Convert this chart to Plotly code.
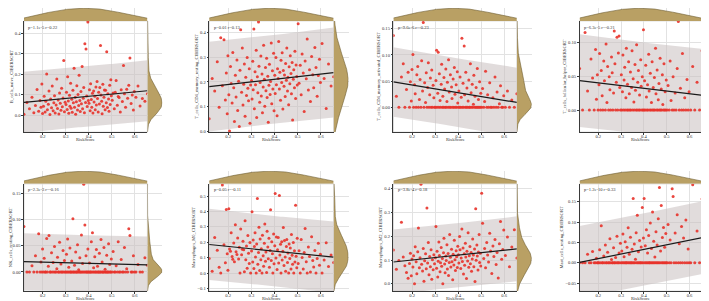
import numpy as np
import plotly.graph_objects as go

W, H = 709, 301

# ---------------- data ----------------
risk_score = [
    0.118, 0.131, 0.142, 0.153, 0.161, 0.168, 0.175, 0.182, 0.188, 0.192, 0.196, 0.199,
    0.203, 0.206, 0.210, 0.213, 0.217, 0.220, 0.224, 0.227, 0.231, 0.234,
    0.238, 0.241, 0.245, 0.248, 0.251, 0.254, 0.258, 0.261, 0.264, 0.267,
    0.270, 0.273, 0.276, 0.279, 0.282, 0.285, 0.288, 0.291, 0.294, 0.297,
    0.301, 0.303, 0.306, 0.308, 0.311, 0.313, 0.316, 0.318, 0.321, 0.323,
    0.326, 0.328, 0.331, 0.333, 0.336, 0.338, 0.341, 0.343, 0.346, 0.348,
    0.351, 0.353, 0.356, 0.358, 0.361, 0.363, 0.366, 0.368, 0.371, 0.373,
    0.376, 0.378, 0.381, 0.383, 0.386, 0.388, 0.391, 0.393, 0.396, 0.398,
    0.401, 0.403, 0.406, 0.408, 0.411, 0.413, 0.416, 0.418, 0.421, 0.423,
    0.426, 0.428, 0.431, 0.433, 0.436, 0.438, 0.441, 0.443, 0.446, 0.448,
    0.451, 0.453, 0.456, 0.458, 0.461, 0.463, 0.466, 0.468, 0.471, 0.473,
    0.476, 0.478, 0.481, 0.483, 0.486, 0.488, 0.491, 0.493, 0.496, 0.498,
    0.502, 0.506, 0.511, 0.515, 0.519, 0.524, 0.528, 0.532, 0.537, 0.541,
    0.546, 0.551, 0.555, 0.560, 0.565, 0.569, 0.574, 0.579, 0.584, 0.589,
    0.594, 0.598,
    0.605, 0.614, 0.623, 0.633, 0.644, 0.655,
]

b_cells_naive = [
    0.005, 0.062, 0.031, 0.088, 0.012, 0.047, 0.125, 0.019, 0.071, 0.038, 0.152, 0.008,
    0.044, 0.092, 0.015, 0.068, 0.201, 0.027, 0.053, 0.118, 0.003, 0.079,
    0.036, 0.142, 0.021, 0.061, 0.095, 0.011, 0.049, 0.177, 0.032, 0.074,
    0.006, 0.108, 0.058, 0.024, 0.131, 0.041, 0.084, 0.267, 0.017, 0.063,
    0.052, 0.112, 0.028, 0.187, 0.069, 0.009, 0.097, 0.043, 0.156, 0.034,
    0.078, 0.014, 0.121, 0.061, 0.229, 0.038, 0.088, 0.004, 0.066, 0.143,
    0.025, 0.101, 0.047, 0.195, 0.072, 0.018, 0.115, 0.056, 0.238, 0.031,
    0.083, 0.135, 0.012, 0.348, 0.062, 0.323, 0.094, 0.042, 0.455, 0.071,
    0.058, 0.124, 0.021, 0.153, 0.076, 0.039, 0.107, 0.011, 0.118, 0.064,
    0.092, 0.027, 0.138, 0.049, 0.164, 0.081, 0.016, 0.112, 0.055, 0.135,
    0.340, 0.098, 0.068, 0.007, 0.151, 0.044, 0.088, 0.123, 0.026, 0.122,
    0.061, 0.310, 0.037, 0.104, 0.079, 0.019, 0.146, 0.052, 0.173, 0.095,
    0.073, 0.108, 0.031, 0.112, 0.169, 0.048, 0.091, 0.086, 0.015, 0.124,
    0.067, 0.242, 0.104, 0.039, 0.127, 0.083, 0.146, 0.279, 0.057, 0.098,
    0.025, 0.116,
    0.087, 0.142, 0.045, 0.081, 0.068, 0.104,
]

t_cd4_memory_resting = [
    0.052, 0.214, 0.163, 0.281, 0.098, 0.377, 0.184, 0.369, 0.127, 0.236, 0.072, 0.305,
    0.148, 0.003, 0.262, 0.194, 0.115, 0.318, 0.176, 0.041, 0.227, 0.139,
    0.288, 0.085, 0.203, 0.021, 0.247, 0.409, 0.158, 0.336, 0.107, 0.191,
    0.272, 0.062, 0.219, 0.145, 0.298, 0.174, 0.124, 0.253, 0.034, 0.187,
    0.206, 0.131, 0.283, 0.168, 0.412, 0.092, 0.241, 0.189, 0.327, 0.057,
    0.221, 0.156, 0.441, 0.263, 0.118, 0.198, 0.304, 0.143, 0.232, 0.076,
    0.179, 0.347, 0.211, 0.102, 0.258, 0.164, 0.295, 0.137, 0.223, 0.038,
    0.186, 0.271, 0.149, 0.202, 0.356, 0.112, 0.245, 0.171, 0.315, 0.084,
    0.227, 0.153, 0.298, 0.189, 0.064, 0.253, 0.214, 0.362, 0.171, 0.239,
    0.126, 0.287, 0.198, 0.317, 0.091, 0.246, 0.182, 0.228, 0.141, 0.274,
    0.207, 0.336, 0.163, 0.219, 0.108, 0.261, 0.193, 0.305, 0.234, 0.152,
    0.278, 0.047, 0.211, 0.249, 0.176, 0.323, 0.133, 0.268, 0.222, 0.187,
    0.434, 0.195, 0.267, 0.148, 0.312, 0.236, 0.081, 0.284, 0.213, 0.372,
    0.167, 0.249, 0.121, 0.302, 0.229, 0.176, 0.338, 0.258, 0.142, 0.226,
    0.291, 0.198,
    0.354, 0.214, 0.093, 0.272, 0.183, 0.221,
]

t_cd4_memory_activated = [
    0.137, 0.021, 0.0, 0.058, 0.083, 0.0, 0.034, 0.067, 0.0, 0.049, 0.012, 0.072,
    0.101, 0.0, 0.043, 0.026, 0.0, 0.062, 0.078, 0.0, 0.015, 0.053,
    0.0, 0.089, 0.031, 0.162, 0.0, 0.047, 0.009, 0.066, 0.0, 0.038,
    0.085, 0.0, 0.024, 0.056, 0.0, 0.071, 0.0, 0.042, 0.018, 0.0,
    0.0, 0.051, 0.109, 0.0, 0.027, 0.105, 0.0, 0.064, 0.013, 0.0,
    0.044, 0.082, 0.0, 0.021, 0.0, 0.057, 0.035, 0.0, 0.073, 0.0,
    0.011, 0.048, 0.0, 0.091, 0.029, 0.0, 0.062, 0.0, 0.039, 0.017,
    0.0, 0.054, 0.0, 0.076, 0.025, 0.0, 0.043, 0.0, 0.068, 0.008,
    0.0, 0.031, 0.0, 0.058, 0.0, 0.019, 0.132, 0.0, 0.046, 0.0,
    0.117, 0.024, 0.0, 0.067, 0.0, 0.037, 0.0, 0.012, 0.052, 0.0,
    0.0, 0.083, 0.028, 0.0, 0.044, 0.0, 0.006, 0.061, 0.0, 0.021,
    0.0, 0.038, 0.0, 0.074, 0.0, 0.015, 0.0, 0.049, 0.0, 0.027,
    0.0, 0.036, 0.0, 0.011, 0.069, 0.0, 0.024, 0.0, 0.047, 0.0,
    0.0, 0.018, 0.0, 0.058, 0.0, 0.029, 0.0, 0.007, 0.041, 0.0,
    0.0, 0.022,
    0.0, 0.031, 0.0, 0.014, 0.0, 0.026,
]

t_follicular_helper = [
    0.061, 0.0, 0.114, 0.028, 0.0, 0.075, 0.047, 0.0, 0.089, 0.016, 0.052, 0.0,
    0.037, 0.083, 0.0, 0.058, 0.021, 0.0, 0.072, 0.043, 0.0, 0.097,
    0.011, 0.064, 0.0, 0.049, 0.030, 0.0, 0.078, 0.055, 0.0, 0.025,
    0.116, 0.068, 0.0, 0.041, 0.107, 0.0, 0.084, 0.109, 0.033, 0.0,
    0.052, 0.0, 0.027, 0.081, 0.0, 0.044, 0.063, 0.0, 0.018, 0.091,
    0.0, 0.038, 0.0, 0.071, 0.024, 0.0, 0.056, 0.0, 0.033, 0.087,
    0.0, 0.046, 0.012, 0.0, 0.067, 0.029, 0.0, 0.096, 0.0, 0.041,
    0.058, 0.0, 0.022, 0.0, 0.074, 0.035, 0.0, 0.049, 0.0, 0.118,
    0.0, 0.043, 0.0, 0.066, 0.019, 0.0, 0.037, 0.0, 0.082, 0.028,
    0.0, 0.054, 0.0, 0.011, 0.071, 0.0, 0.033, 0.0, 0.048, 0.0,
    0.091, 0.024, 0.0, 0.059, 0.0, 0.015, 0.039, 0.0, 0.076, 0.0,
    0.031, 0.0, 0.052, 0.008, 0.0, 0.068, 0.0, 0.027, 0.0, 0.044,
    0.0, 0.036, 0.0, 0.072, 0.014, 0.0, 0.049, 0.0, 0.025, 0.0,
    0.061, 0.130, 0.0, 0.032, 0.0, 0.083, 0.0, 0.018, 0.0, 0.045,
    0.0, 0.027,
    0.0, 0.064, 0.0, 0.041, 0.0, 0.087,
]

nk_cells_resting = [
    0.087, 0.0, 0.0, 0.012, 0.0, 0.031, 0.0, 0.073, 0.0, 0.019, 0.0, 0.044,
    0.0, 0.026, 0.0, 0.0, 0.064, 0.0, 0.011, 0.070, 0.0, 0.0,
    0.037, 0.0, 0.018, 0.0, 0.049, 0.0, 0.0, 0.006, 0.028, 0.0,
    0.0, 0.057, 0.0, 0.015, 0.0, 0.0, 0.041, 0.0, 0.022, 0.0,
    0.0, 0.034, 0.0, 0.063, 0.0, 0.009, 0.0, 0.046, 0.0, 0.0,
    0.021, 0.0, 0.102, 0.0, 0.0, 0.013, 0.0, 0.038, 0.0, 0.0,
    0.052, 0.0, 0.004, 0.0, 0.027, 0.0, 0.0, 0.071, 0.0, 0.016,
    0.0, 0.168, 0.0, 0.090, 0.0, 0.031, 0.0, 0.0, 0.044, 0.0,
    0.0, 0.017, 0.0, 0.0, 0.058, 0.0, 0.075, 0.0, 0.008, 0.0,
    0.029, 0.0, 0.0, 0.043, 0.0, 0.011, 0.0, 0.0, 0.036, 0.0,
    0.0, 0.062, 0.0, 0.019, 0.0, 0.0, 0.047, 0.0, 0.005, 0.0,
    0.0, 0.032, 0.0, 0.0, 0.054, 0.0, 0.014, 0.0, 0.0, 0.025,
    0.0, 0.039, 0.0, 0.0, 0.012, 0.0, 0.058, 0.0, 0.0, 0.024,
    0.0, 0.0, 0.047, 0.0, 0.006, 0.0, 0.083, 0.070, 0.0, 0.0,
    0.031, 0.0,
    0.0, 0.014, 0.0, 0.0, 0.027, 0.013,
]

macrophages_m0 = [
    0.094, 0.012, 0.231, 0.148, 0.037, 0.0, 0.571, 0.183, 0.067, 0.412, 0.125, 0.019,
    0.418, 0.156, 0.142, 0.262, 0.108, 0.090, 0.195, 0.073, 0.314, 0.138,
    0.121, 0.227, 0.091, 0.168, 0.0, 0.286, 0.119, 0.154, 0.207, 0.151,
    0.008, 0.339, 0.086, 0.176, 0.032, 0.243, 0.129, 0.062, 0.198, 0.0,
    0.143, 0.398, 0.071, 0.215, 0.029, 0.172, 0.261, 0.104, 0.0, 0.189,
    0.483, 0.058, 0.134, 0.297, 0.016, 0.221, 0.087, 0.158, 0.0, 0.246,
    0.112, 0.045, 0.193, 0.318, 0.076, 0.137, 0.004, 0.271, 0.169, 0.093,
    0.226, 0.038, 0.147, 0.410, 0.081, 0.203, 0.126, 0.0, 0.254, 0.061,
    0.178, 0.517, 0.097, 0.234, 0.023, 0.152, 0.231, 0.066, 0.503, 0.118,
    0.187, 0.0, 0.203, 0.084, 0.141, 0.296, 0.049, 0.212, 0.105, 0.012,
    0.173, 0.218, 0.069, 0.131, 0.0, 0.189, 0.095, 0.163, 0.027, 0.251,
    0.116, 0.057, 0.198, 0.0, 0.144, 0.072, 0.440, 0.109, 0.035, 0.226,
    0.062, 0.144, 0.0, 0.217, 0.101, 0.026, 0.133, 0.289, 0.073, 0.0,
    0.169, 0.108, 0.007, 0.235, 0.081, 0.039, 0.146, 0.0, 0.094, 0.193,
    0.051, 0.122,
    0.0, 0.084, 0.197, 0.043, 0.118, 0.069,
]

macrophages_m2 = [
    0.142, 0.061, 0.098, 0.259, 0.113, 0.076, 0.047, 0.023, 0.085, 0.129, 0.034, 0.104,
    0.071, 0.118, 0.0, 0.156, 0.093, 0.042, 0.135, 0.235, 0.067, 0.109,
    0.419, 0.082, 0.054, 0.148, 0.011, 0.097, 0.126, 0.063, 0.319, 0.087,
    0.174, 0.038, 0.115, 0.072, 0.143, 0.019, 0.101, 0.059, 0.122, 0.084,
    0.109, 0.241, 0.065, 0.137, 0.028, 0.095, 0.176, 0.119, 0.051, 0.088,
    0.153, 0.074, 0.106, 0.0, 0.131, 0.192, 0.083, 0.046, 0.117, 0.098,
    0.164, 0.062, 0.127, 0.035, 0.089, 0.208, 0.112, 0.071, 0.145, 0.093,
    0.017, 0.124, 0.079, 0.183, 0.101, 0.056, 0.139, 0.114, 0.068, 0.158,
    0.122, 0.087, 0.199, 0.143, 0.064, 0.108, 0.231, 0.094, 0.151, 0.041,
    0.126, 0.078, 0.171, 0.113, 0.022, 0.137, 0.096, 0.215, 0.069, 0.118,
    0.157, 0.084, 0.132, 0.053, 0.104, 0.188, 0.121, 0.072, 0.146, 0.009,
    0.316, 0.099, 0.163, 0.117, 0.058, 0.134, 0.207, 0.089, 0.128, 0.075,
    0.381, 0.255, 0.106, 0.148, 0.067, 0.174, 0.121, 0.092, 0.213, 0.138,
    0.043, 0.159, 0.115, 0.186, 0.081, 0.132, 0.024, 0.168, 0.262, 0.103,
    0.144, 0.226,
    0.119, 0.197, 0.072, 0.155, 0.228, 0.108,
]

mast_cells_resting = [
    0.0, 0.0, 0.0, 0.021, 0.0, 0.0, 0.028, 0.0, 0.0, 0.011, 0.0, 0.0,
    0.0, 0.032, 0.0, 0.091, 0.0, 0.0, 0.017, 0.0, 0.044, 0.0,
    0.0, 0.026, 0.0, 0.0, 0.059, 0.0, 0.008, 0.0, 0.0, 0.037,
    0.0, 0.0, 0.013, 0.0, 0.065, 0.0, 0.0, 0.024, 0.0, 0.048,
    0.0, 0.029, 0.0, 0.071, 0.0, 0.015, 0.0, 0.052, 0.0, 0.0,
    0.038, 0.0, 0.086, 0.0, 0.021, 0.0, 0.063, 0.0, 0.0, 0.033,
    0.0, 0.158, 0.0, 0.046, 0.0, 0.009, 0.074, 0.0, 0.117, 0.0,
    0.027, 0.0, 0.055, 0.0, 0.0, 0.039, 0.0, 0.136, 0.0, 0.061,
    0.158, 0.0, 0.042, 0.0, 0.081, 0.0, 0.024, 0.0, 0.067, 0.0,
    0.0, 0.098, 0.0, 0.035, 0.0, 0.125, 0.0, 0.053, 0.0, 0.014,
    0.0, 0.076, 0.0, 0.044, 0.0, 0.108, 0.0, 0.185, 0.0, 0.029,
    0.141, 0.0, 0.062, 0.0, 0.087, 0.0, 0.038, 0.0, 0.072, 0.0,
    0.0, 0.094, 0.0, 0.056, 0.0, 0.182, 0.163, 0.0, 0.073, 0.0,
    0.118, 0.0, 0.047, 0.0, 0.089, 0.0, 0.061, 0.0, 0.105, 0.0,
    0.034, 0.0,
    0.0, 0.192, 0.0, 0.078, 0.0, 0.157,
]

cell_names = [
    "B_cells_naive_CIBERSORT",
    "T_cells_CD4_memory_resting_CIBERSORT",
    "T_cells_CD4_memory_activated_CIBERSORT",
    "T_cells_follicular_helper_CIBERSORT",
    "NK_cells_resting_CIBERSORT",
    "Macrophages_M0_CIBERSORT",
    "Macrophages_M2_CIBERSORT",
    "Mast_cells_resting_CIBERSORT",
]
stat_labels = [
    "p=1.1e-5 r=0.22", "p=0.01 r=0.13", "p=9.6e-6 r=-0.23", "p=6.3e-5 r=-0.21",
    "p=2.3e-3 r=-0.16", "p=0.05 r=-0.11", "p=3.8e-4 r=0.18", "p=1.2e-10 r=0.33",
]
y_ticks = [
    [0.0, 0.1, 0.2, 0.3, 0.4],
    [0.0, 0.1, 0.2, 0.3, 0.4],
    [0.0, 0.05, 0.10, 0.15],
    [0.0, 0.05, 0.10],
    [0.0, 0.05, 0.10, 0.15],
    [-0.1, 0.0, 0.1, 0.2, 0.3, 0.4, 0.5],
    [0.0, 0.1, 0.2, 0.3, 0.4],
    [-0.05, 0.0, 0.05, 0.10, 0.15],
]
x_ticks = [0.2, 0.3, 0.4, 0.5, 0.6]
x_title = "RiskScore"

series = [b_cells_naive, t_cd4_memory_resting, t_cd4_memory_activated,
          t_follicular_helper, nk_cells_resting, macrophages_m0,
          macrophages_m2, mast_cells_resting]
for s in series:
    assert len(s) == len(risk_score), len(s)

# ---------------- styling / layout ----------------
y_ranges = [
    [-0.083, 0.46], [-0.002, 0.445], [-0.0475, 0.165], [-0.0325, 0.131],
    [-0.0368, 0.169], [-0.117, 0.579], [-0.031, 0.421], [-0.0695, 0.194],
]
y_formats = [".1f", ".1f", ".2f", ".2f", ".2f", ".1f", ".1f", ".2f"]
col_px = [(13, 137), (199, 324), (384, 508), (571, 694)]
row_px = [(13, 125), (177, 285)]
TOP_H = 13
RIGHT_W = 15
FONT = "Liberation Serif"
DENS_FILL = "#B9A064"
DENS_LINE = "#6E5E33"
POINT = "#E8322A"
BAND = "rgba(200,192,192,0.55)"


def kde(values, grid, adjust=1.0):
    v = np.asarray(values, float)
    n = len(v)
    bw = adjust * 0.9 * v.std(ddof=1) * n ** -0.2
    z = (grid[:, None] - v[None, :]) / bw
    return np.exp(-0.5 * z ** 2).sum(1) / (n * bw * np.sqrt(2 * np.pi))


def axname(prefix, k):
    return prefix if k == 1 else f"{prefix}{k}"


x = np.asarray(risk_score, float)
xmin, xmax = float(x.min()), float(x.max())
xgrid = np.linspace(xmin, xmax, 200)
xdens = kde(x, xgrid, adjust=1.7)

fig = go.Figure()
layout = dict(
    width=W, height=H, margin=dict(l=0, r=0, t=0, b=0),
    paper_bgcolor="white", plot_bgcolor="white", showlegend=False,
    font=dict(family=FONT, size=5, color="#333333"),
)
shapes = []
annotations = []

for i, ys in enumerate(series):
    r, c = divmod(i, 4)
    k = 2 * i + 1
    xm, ym = axname("x", k), axname("y", k)
    ytop, xright = axname("y", k + 1), axname("x", k + 1)
    x0, x1 = col_px[c]
    yt, yb = row_px[r]
    y = np.asarray(ys, float)

    # regression + prediction band
    n = len(x)
    slope, inter = np.polyfit(x, y, 1)
    resid = y - (inter + slope * x)
    s = np.sqrt((resid ** 2).sum() / (n - 2))
    sxx = ((x - x.mean()) ** 2).sum()
    g = np.linspace(xmin, xmax, 60)
    fit = inter + slope * g
    hw = 1.976 * s * np.sqrt(1 + 1 / n + (g - x.mean()) ** 2 / sxx)

    fig.add_trace(go.Scatter(x=np.concatenate([g, g[::-1]]),
                             y=np.concatenate([fit + hw, (fit - hw)[::-1]]),
                             fill="toself", fillcolor=BAND, line=dict(width=0),
                             mode="lines", hoverinfo="skip", xaxis=xm, yaxis=ym))
    fig.add_trace(go.Scatter(x=x, y=y, mode="markers",
                             marker=dict(size=3, color=POINT, opacity=0.9),
                             xaxis=xm, yaxis=ym))
    fig.add_trace(go.Scatter(x=g, y=fit, mode="lines",
                             line=dict(color="#1a1a1a", width=1.2),
                             xaxis=xm, yaxis=ym))

    # marginal densities
    fig.add_trace(go.Scatter(x=xgrid, y=xdens, mode="lines", fill="tozeroy",
                             fillcolor=DENS_FILL, line=dict(color=DENS_LINE, width=0.6),
                             xaxis=xm, yaxis=ytop))
    ygrid = np.linspace(y_ranges[i][0], y_ranges[i][1], 200)
    ydens = kde(y, ygrid, adjust=1.3)
    fig.add_trace(go.Scatter(x=ydens, y=ygrid, mode="lines", fill="tozerox",
                             fillcolor=DENS_FILL, line=dict(color=DENS_LINE, width=0.6),
                             xaxis=xright, yaxis=ym))

    axfont = dict(family=FONT, size=4.6, color="#333333")
    layout[axname("xaxis", k)] = dict(
        domain=[x0 / W, x1 / W], anchor=ym, range=[xmin, xmax],
        tickvals=x_ticks, tickformat=".1f", showgrid=True, gridcolor="#E2E2E2",
        gridwidth=0.6, zeroline=False, showline=True, linecolor="#3a3a3a",
        linewidth=1, ticks="outside", ticklen=1.5, tickwidth=0.6, tickcolor="#3a3a3a",
        tickfont=axfont, ticklabelstandoff=-2,
    )
    layout[axname("yaxis", k)] = dict(
        domain=[1 - yb / H, 1 - yt / H], anchor=xm, range=y_ranges[i],
        tickvals=y_ticks[i], tickformat=y_formats[i], showgrid=True,
        gridcolor="#E2E2E2", gridwidth=0.6, zeroline=False, showline=True,
        linecolor="#3a3a3a", linewidth=1, ticks="outside", ticklen=1.5,
        tickwidth=0.6, tickcolor="#3a3a3a", tickfont=axfont,
        title=dict(text=cell_names[i], font=axfont, standoff=1),
    )
    layout[axname("yaxis", k + 1)] = dict(
        domain=[1 - yt / H, min(1.0, 1 - (yt - TOP_H) / H)], anchor=xm,
        range=[0, xdens.max() * 1.02], visible=False,
    )
    layout[axname("xaxis", k + 1)] = dict(
        domain=[x1 / W, min(1.0, (x1 + RIGHT_W) / W)], anchor=ym,
        range=[0, ydens.max() * 1.02], visible=False,
    )
    shapes.append(dict(type="rect", xref=f"{xm} domain", yref=f"{ym} domain",
                       x0=0, x1=1, y0=0, y1=1, line=dict(color="#BDBDBD", width=0.6),
                       layer="below"))
    annotations.append(dict(text=stat_labels[i], xref=f"{xm} domain",
                            yref=f"{ym} domain", x=0.02, y=0.985, xanchor="left",
                            yanchor="top", showarrow=False,
                            font=dict(family=FONT, size=4.5, color="#333333")))
    annotations.append(dict(text=x_title, xref=f"{xm} domain", yref="paper",
                            x=0.5, y=1 - (yb + 11) / H, xanchor="center",
                            yanchor="bottom", showarrow=False, borderpad=0,
                            font=axfont))

layout["shapes"] = shapes
layout["annotations"] = annotations
fig.update_layout(**layout)
fig.write_html("out.html")
